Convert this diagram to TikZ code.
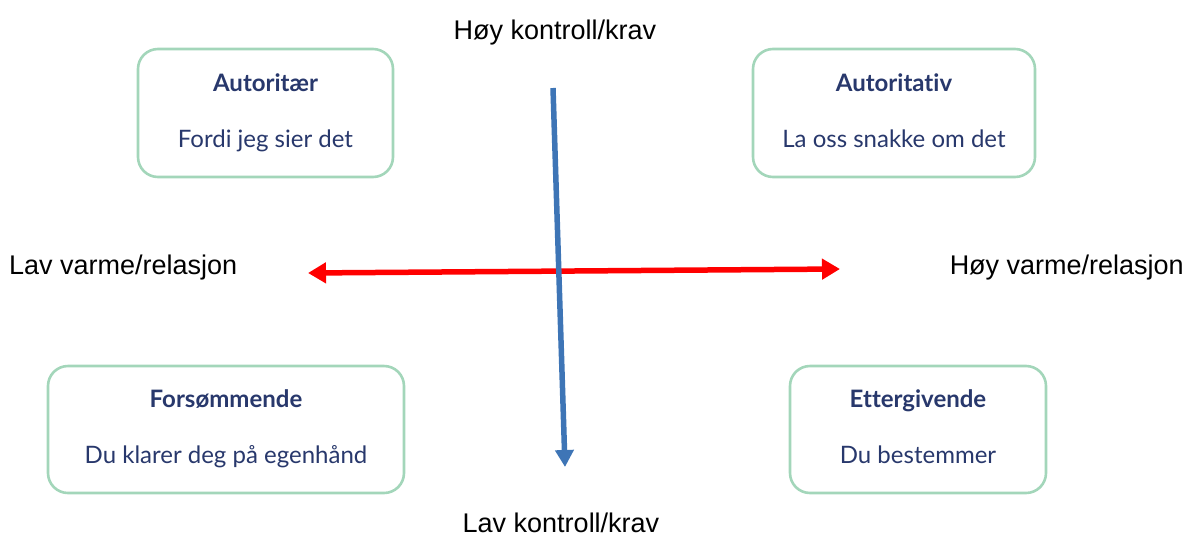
\documentclass[tikz,border=0pt]{standalone}
\usepackage{fontspec}
\setmainfont{Liberation Sans}
\newfontfamily\latofont[Ligatures={NoCommon,NoDiscretionary}]{Lato}
\usetikzlibrary{arrows.meta}
\definecolor{boxgreen}{RGB}{163,214,186}
\definecolor{navytext}{RGB}{40,56,108}
\definecolor{arrowblue}{RGB}{62,117,182}
\definecolor{arrowred}{RGB}{255,0,0}
\begin{document}
\begin{tikzpicture}[x=1pt,y=-1pt,
  stylebox/.style={draw=boxgreen,line width=2.6pt,rounded corners=20pt,fill=white},
  titletext/.style={anchor=base,text=navytext,font=\latofont\bfseries\fontsize{24}{28}\selectfont,inner sep=0pt},
  subtext/.style={anchor=base,text=navytext,font=\latofont\fontsize{24}{28}\selectfont,inner sep=0pt},
  axislabel/.style={anchor=base,font=\fontsize{27}{31}\selectfont,inner sep=0pt}]
\useasboundingbox (0,0) rectangle (1191,536);
% boxes
\draw[stylebox] (138,49) rectangle (393,177);
\draw[stylebox] (753,49) rectangle (1035,177);
\draw[stylebox] (48,366) rectangle (404,493);
\draw[stylebox] (790,366) rectangle (1046,493);
\node[titletext] (t1) at (265.5,91) {Autoritær};
\node[subtext] (s1) at (265.5,147) {Fordi jeg sier det};
\node[titletext] (t2) at (894,91) {Autoritativ};
\node[subtext] (s2) at (894,147) {La oss snakke om det};
\node[titletext] (t3) at (226,407) {Forsømmende};
\node[subtext] (s3) at (226,463) {Du klarer deg på egenhånd};
\node[titletext] (t4) at (918,407) {Ettergivende};
\node[subtext] (s4) at (918,463) {Du bestemmer};
% axis labels
\node[axislabel] (top) at (555,39) {Høy kontroll/krav};
\node[axislabel] (bot) at (561,532) {Lav kontroll/krav};
\node[axislabel,anchor=base west] (left) at (9,274) {Lav varme/relasjon};
\node[axislabel,anchor=base east] (right) at (1184,274) {Høy varme/relasjon};
% arrows
\coordinate (rl) at (308,273);
\coordinate (rr) at (840,269);
\coordinate (bt) at (553,88);
\coordinate (bb) at (565,467);
\draw[arrowred,line width=5.5pt,{Triangle[width=20pt,length=18pt]}-{Triangle[width=20pt,length=18pt]}] (rl) -- (rr);
\draw[arrowblue,line width=5.5pt,-{Triangle[width=18pt,length=17pt]}] (bt) -- (bb);
\end{tikzpicture}
\end{document}
